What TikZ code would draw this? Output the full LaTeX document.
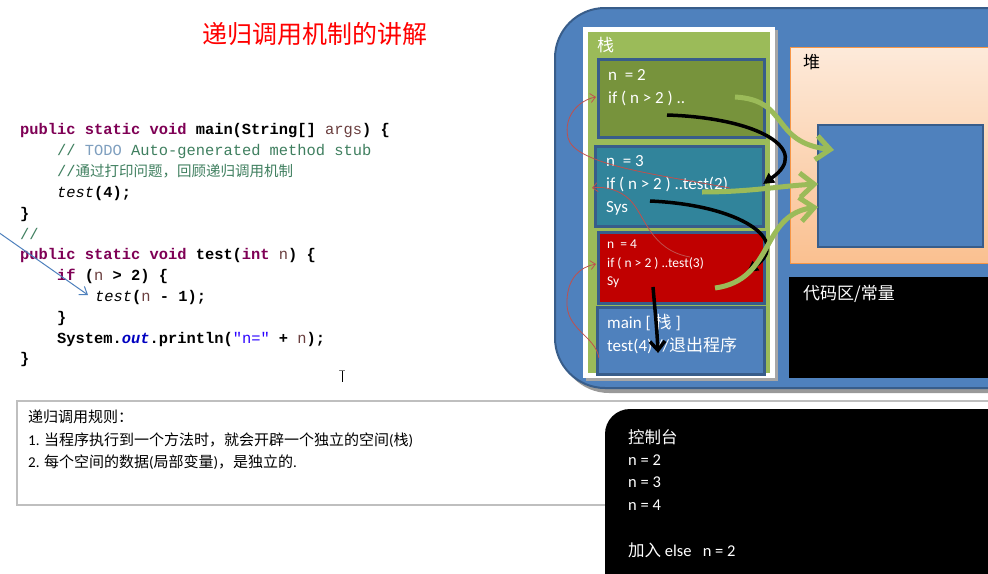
\documentclass[tikz,border=0pt]{standalone}
\usepackage{fontspec}
\setmainfont{Carlito}
\newfontfamily\cjk{Noto Sans CJK SC}
\newfontfamily\code[Ligatures=TeXOff]{Liberation Mono}
\usetikzlibrary{arrows.meta}
\definecolor{kwc}{HTML}{7F0055}
\definecolor{cmc}{HTML}{3F7F5F}
\definecolor{todoc}{HTML}{7F9FBF}
\definecolor{strc}{HTML}{2A00FF}
\definecolor{outc}{HTML}{0000C0}
\definecolor{varc}{HTML}{6A3E3E}
\definecolor{bigblue}{HTML}{4F81BD}
\definecolor{blueborder}{HTML}{385D8A}
\definecolor{stackgreen}{HTML}{9BBB59}
\definecolor{frameone}{HTML}{77933C}
\definecolor{frametwo}{HTML}{31849B}
\definecolor{framethree}{HTML}{C00000}
\definecolor{heapborder}{HTML}{F79646}
\definecolor{heaptop}{HTML}{FDEADA}
\definecolor{heapbot}{HTML}{FAC090}
\definecolor{redarrow}{HTML}{C0504D}
\definecolor{rulegray}{HTML}{BFBFBF}
\newcommand\jkw[1]{\textcolor{kwc}{\bfseries #1}}
\newcommand\jcm[1]{\textcolor{cmc}{#1}}
\newcommand\jtodo[1]{\textcolor{todoc}{#1}}
\newcommand\jstr[1]{\textcolor{strc}{#1}}
\newcommand\jout[1]{\textcolor{outc}{\bfseries\itshape #1}}
\newcommand\jvar[1]{\textcolor{varc}{#1}}
\newcommand\jbf[1]{{\bfseries #1}}
\newcommand\jit[1]{{\itshape #1}}
\tikzset{
  codeline/.style={anchor=mid west, inner sep=0pt, yshift=-3pt, font=\code\fontsize{15.4}{18}\selectfont},
  txt/.style={anchor=west, inner sep=0pt},
  bigtxt/.style={txt, text=white, font=\fontsize{17}{20}\selectfont},
  smalltxt/.style={txt, text=white, font=\fontsize{13.5}{16}\selectfont},
  frm/.style={draw=blueborder, line width=2.5pt, anchor=north west, inner sep=0pt},
  garrow/.style={draw=stackgreen, line width=5pt, -{Straight Barb[length=14pt,width=24pt,line width=5pt]}},
  karrow/.style={draw=black, line width=3.5pt, -{Triangle[length=11pt,width=11pt]}},
  rarrow/.style={draw=redarrow, line width=0.8pt, -{Straight Barb[length=5pt,width=9pt,line width=0.8pt]}}
}
\begin{document}
\begin{tikzpicture}[x=1pt,y=-1pt]
\useasboundingbox (0,0) rectangle (988,573);
\clip (0,0) rectangle (988,573);
\fill[white] (0,0) rectangle (988,573);

% title
\node[font=\cjk\fontsize{25}{30}\selectfont, text=red, inner sep=0pt] (title) at (315,34) {递归调用机制的讲解};

% code
\node[codeline] (c1) at (20,129) {\jkw{public static void} \jbf{main(String[]} \jvar{args}\jbf{) \{}};
\node[codeline] (c2) at (57,150) {\jcm{//\ }\jtodo{TODO}\jcm{\ Auto-generated method stub}};
\node[codeline] (c3) at (57,171) {\jcm{//{\cjk\fontsize{14.5}{16}\selectfont 通过打印问题，回顾递归调用机制}}};
\node[codeline] (c4) at (57,192) {\jit{test}\jbf{(4);}};
\node[codeline] (c5) at (20,213) {\jbf{\}}};
\node[codeline] (c6) at (20,234) {\jcm{//}};
\node[codeline] (c7) at (20,254) {\jkw{public static void} \jbf{test(}\jkw{int} \jvar{n}\jbf{) \{}};
\node[codeline] (c8) at (57,275) {\jkw{if} \jbf{(}\jvar{n}\jbf{ > 2) \{}};
\node[codeline] (c9) at (95,296) {\jit{test}\jbf{(}\jvar{n}\jbf{ - 1);}};
\node[codeline] (c10) at (57,317) {\jbf{\}}};
\node[codeline] (c11) at (57,338) {\jbf{System.}\jout{out}\jbf{.println(}\jstr{"n="}\jbf{ + }\jvar{n}\jbf{);}};
\node[codeline] (c12) at (20,358) {\jbf{\}}};

\coordinate (bs) at (-2,232);
\coordinate (bt) at (88,295);
\draw[draw=bigblue, line width=1pt, -{Straight Barb[length=7pt,width=10pt,line width=1pt]}] (bs) -- (bt);

% text cursor
\draw[line width=1pt] (342,370) -- (342,382);
\draw[line width=1pt, black!50] (339,370) -- (345,370);

% rules box
\draw[rulegray, line width=1.2pt] (17,401) rectangle (1000,505);
\node[txt, font=\cjk\fontsize{15}{18}\selectfont] (r0) at (28,417) {递归调用规则：};
\node[txt, font=\fontsize{15}{18}\selectfont] (r1) at (28,440) {1. {\cjk 当程序执行到一个方法时，就会开辟一个独立的空间}({\cjk 栈})};
\node[txt, font=\fontsize{15}{18}\selectfont] (r2) at (28,462) {2. {\cjk 每个空间的数据}({\cjk 局部变量}){\cjk ，是独立的}.};

% console
\fill[black, rounded corners=25pt] (605,409) rectangle (1040,620);
\node[bigtxt, font=\cjk\fontsize{16.5}{20}\selectfont] (k0) at (628,437) {控制台};
\node[bigtxt, font=\fontsize{16.5}{20}\selectfont] (k1) at (628,460) {n = 2};
\node[bigtxt, font=\fontsize{16.5}{20}\selectfont] (k2) at (628,482) {n = 3};
\node[bigtxt, font=\fontsize{16.5}{20}\selectfont] (k3) at (628,505) {n = 4};
\node[bigtxt, font=\fontsize{16.5}{20}\selectfont] (k4) at (628,550) {{\cjk 加入} else\ \ \ n = 2};

% big memory box
\fill[black!40, rounded corners=50pt] (559,13) rectangle (1045,393);
\filldraw[fill=bigblue, draw=blueborder, line width=2pt, rounded corners=50pt] (555,8) rectangle (1040,388);

% stack panel
\fill[black!35] (586,30) rectangle (778,381);
\fill[white] (583,27) rectangle (775,378);
\fill[stackgreen] (588,32) rectangle (770,373);
\node[txt, text=white, font=\cjk\fontsize{17}{20}\selectfont] (stk) at (597,45) {栈};

\node[frm, fill=frameone, minimum width=166, minimum height=78] (fr1) at (597,58) {};
\node[frm, fill=frametwo, minimum width=168, minimum height=80] (fr2) at (594,145) {};
\node[frm, fill=framethree, minimum width=166, minimum height=71] (fr3) at (597,231) {};
\node[frm, fill=bigblue, minimum width=167, minimum height=67] (fr4) at (596,306) {};

\node[bigtxt] (t11) at (608,75) {n\ \ = 2};
\node[bigtxt] (t12) at (608,98) {if ( n > 2 ) ..};
\node[bigtxt] (t21) at (606,161) {n\ \ = 3};
\node[bigtxt] (t22) at (606,184) {if ( n > 2 ) ..test(2)};
\node[bigtxt] (t23) at (606,208) {Sys};
\node[smalltxt] (t31) at (607,244) {n\ \ = 4};
\node[smalltxt] (t32) at (607,263) {if ( n > 2 ) ..test(3)};
\node[smalltxt] (t33) at (607,282) {Sy};
\node[bigtxt] (t41) at (607,323) {main [ {\cjk 栈} ]};
\node[bigtxt] (t42) at (607,345) {test(4) //{\cjk 退出程序}};

% heap
\draw[draw=heapborder, line width=1pt, top color=heaptop, bottom color=heapbot] (790,47) rectangle (1040,263);
\node[txt, font=\cjk\fontsize{17}{20}\selectfont] (heap) at (803,62) {堆};
\filldraw[fill=bigblue, draw=blueborder, line width=2.5pt] (818,125) rectangle (983,247);

% code area
\fill[black] (789,277) rectangle (1040,378);
\node[txt, text=white, font=\cjk\fontsize{17}{20}\selectfont] (codearea) at (803,294) {代码区/常量};

% red return arrows
\coordinate (ra1s) at (730,188);
\coordinate (ra1t) at (596,97);
\draw[rarrow] (ra1s) .. controls (660,175) and (575,165) .. (568,138) .. controls (563,115) and (580,100) .. (ra1t);
\coordinate (ra2s) at (690,257);
\coordinate (ra2t) at (592,188);
\draw[rarrow] (ra2s) .. controls (650,250) and (645,215) .. (630,200) .. controls (620,190) and (605,186) .. (ra2t);
\coordinate (ra3s) at (599,358);
\coordinate (ra3t) at (596,264);
\draw[rarrow] (ra3s) .. controls (595,335) and (565,330) .. (567,300) .. controls (568,278) and (580,267) .. (ra3t);

% black return arrows
\coordinate (ka1s) at (667,115);
\coordinate (ka1t) at (763,184);
\draw[karrow] (ka1s) .. controls (760,118) and (812,150) .. (ka1t);
\coordinate (ka2s) at (650,201);
\coordinate (ka2t) at (747,272);
\draw[karrow] (ka2s) .. controls (740,205) and (792,240) .. (ka2t);
\coordinate (ka3s) at (653,287);
\coordinate (ka3t) at (658,353);
\draw[draw=black, line width=3.5pt, -{Straight Barb[length=9pt,width=15pt,line width=3.5pt]}] (ka3s) .. controls (655,310) and (657,330) .. (ka3t);

% green arrows to heap
\coordinate (ga1s) at (735,97);
\coordinate (ga1t) at (834,150);
\draw[garrow] (ga1s) .. controls (790,100) and (770,142) .. (ga1t);
\coordinate (ga2s) at (702,192);
\coordinate (ga2t) at (818,184);
\draw[garrow] (ga2s) .. controls (750,192) and (780,186) .. (ga2t);
\coordinate (ga3s) at (715,288);
\coordinate (ga3t) at (818,207);
\draw[garrow] (ga3s) .. controls (775,280) and (760,215) .. (ga3t);
\end{tikzpicture}
\end{document}
